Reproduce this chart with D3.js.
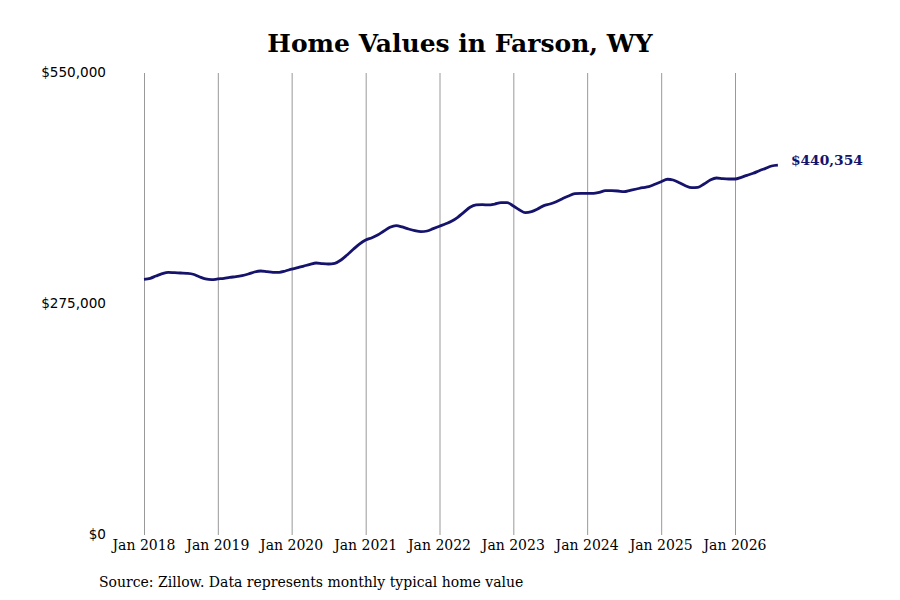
<!doctype html>
<html>
<head>
<script src="https://cdnjs.cloudflare.com/ajax/libs/d3/7.8.5/d3.min.js"></script>
<style>
body { margin: 0; background: #fff; }
</style>
</head>
<body>
<svg id="chart" width="900" height="600"></svg>
<script>
// monthly typical home value (thousands), Jan 2018 .. Aug 2026
var startMonth = "2018-01";
var values = [
  304.4, 305.6, 308.3, 311.1, 312.7, 312.3, 311.9, 311.5, 310.4, 307.5, 304.8, 303.9,
  304.8, 305.6, 306.8, 307.5, 308.7, 310.7, 313.1, 314.3, 313.5, 312.7, 312.7, 314.3,
  316.5, 318.3, 320.2, 322.2, 323.8, 323.0, 322.6, 323.4, 327.4, 333.3, 340.1, 346.4,
  351.2, 353.9, 357.1, 361.9, 366.3, 368.3, 366.7, 364.3, 362.3, 361.1, 361.9, 364.7,
  367.6, 370.5, 373.4, 378.2, 384.1, 390.1, 392.9, 393.3, 392.9, 394.0, 395.6, 395.6,
  391.7, 386.9, 383.7, 384.9, 388.1, 392.1, 394.0, 396.8, 400.4, 403.6, 406.3, 406.7,
  406.7, 406.7, 407.9, 409.9, 409.9, 409.5, 408.7, 410.3, 411.9, 413.5, 414.7, 417.5,
  420.6, 423.5, 422.6, 419.4, 415.8, 413.5, 413.9, 417.9, 422.6, 425.0, 424.2, 423.8,
  423.8, 425.8, 428.2, 430.6, 433.7, 436.5, 439.3, 440.354
];
var yTicks = [0, 275000, 550000];
var xTickYears = [2018, 2019, 2020, 2021, 2022, 2023, 2024, 2025, 2026];
var lastLabel = "$440,354";

var parse = d3.timeParse("%Y-%m");
var t0 = parse(startMonth);
var data = values.map(function(v, i) {
  return { date: d3.timeMonth.offset(t0, i), value: v * 1000 };
});

var svg = d3.select("#chart");
var x = d3.scaleTime()
  .domain([new Date(2018, 0, 1), new Date(2026, 0, 1)])
  .range([144, 735]);
var y = d3.scaleLinear().domain([0, 550000]).range([535, 73]);

// vertical gridlines
svg.append("g").selectAll("line")
  .data(xTickYears)
  .enter().append("line")
  .attr("x1", d => x(new Date(d, 0, 1)) + 0.5)
  .attr("x2", d => x(new Date(d, 0, 1)) + 0.5)
  .attr("y1", y(550000))
  .attr("y2", y(0))
  .attr("stroke", "#999")
  .attr("stroke-width", 1);

svg.append("g").selectAll("text")
  .data(xTickYears)
  .enter().append("text")
  .attr("x", d => x(new Date(d, 0, 1)))
  .attr("y", 550)
  .attr("text-anchor", "middle")
  .style("font-family", "DejaVu Serif")
  .style("font-size", "14px")
  .style("fill", "#000")
  .text(d => "Jan " + d);

svg.append("g").selectAll("text")
  .data(yTicks)
  .enter().append("text")
  .attr("x", 106)
  .attr("y", d => y(d) + 4)
  .attr("text-anchor", "end")
  .style("font-family", "DejaVu Sans")
  .style("font-size", "13.6px")
  .style("fill", "#000")
  .text(d => "$" + d3.format(",")(d));

var line = d3.line()
  .x(d => x(d.date))
  .y(d => y(d.value))
  .curve(d3.curveMonotoneX);

svg.append("path")
  .datum(data)
  .attr("fill", "none")
  .attr("stroke", "#15136b")
  .attr("stroke-width", 2.8)
  .attr("stroke-linejoin", "round")
  .attr("d", line);

var last = data[data.length - 1];
svg.append("text")
  .attr("x", x(last.date) + 13)
  .attr("y", y(last.value) - 5)
  .attr("dy", "0.35em")
  .style("font-family", "DejaVu Serif")
  .style("font-weight", "bold")
  .style("font-size", "13.8px")
  .style("fill", "#15136b")
  .text(lastLabel);

svg.append("text")
  .attr("x", 460)
  .attr("y", 52)
  .attr("text-anchor", "middle")
  .style("font-family", "DejaVu Serif")
  .style("font-weight", "bold")
  .style("font-size", "25px")
  .style("fill", "#000")
  .text("Home Values in Farson, WY");

svg.append("text")
  .attr("x", 99)
  .attr("y", 587)
  .style("font-family", "DejaVu Serif")
  .style("font-size", "14px")
  .style("fill", "#000")
  .text("Source: Zillow. Data represents monthly typical home value");
</script>
</body>
</html>
